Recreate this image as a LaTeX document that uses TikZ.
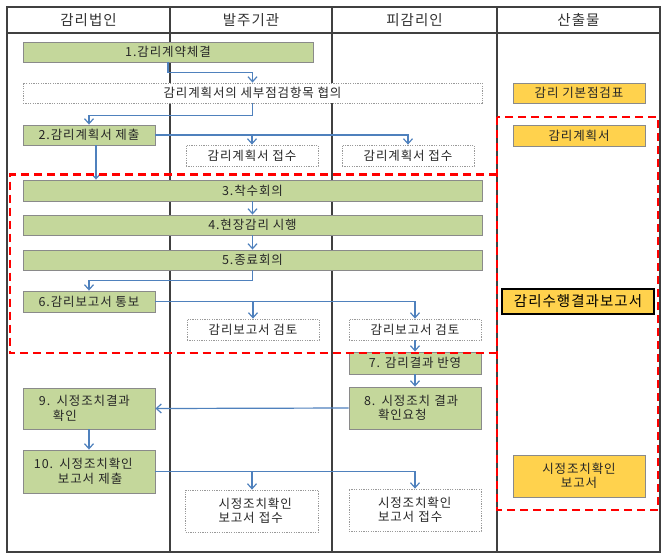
\documentclass[tikz,border=0pt]{standalone}
\usepackage{fontspec}
\setmainfont[LetterSpace=7]{Noto Sans CJK KR}
\usetikzlibrary{arrows.meta}
\definecolor{gfill}{HTML}{C4D79B}
\definecolor{gline}{HTML}{8A8A8A}
\definecolor{yfill}{HTML}{FFD24D}
\definecolor{arrc}{HTML}{4F81BD}
\definecolor{gridc}{HTML}{404040}
\definecolor{txt}{HTML}{262626}
\begin{document}
\begin{tikzpicture}[x=1pt,y=-1pt,
  every node/.style={inner sep=0pt, text=txt, font=\fontsize{12.5}{14.5}\selectfont},
  gbox/.style={draw=gline, fill=gfill, line width=0.9pt},
  dbox/.style={draw=gray!80, dash pattern=on 1.2pt off 1.2pt, line width=0.8pt, fill=white},
  ybox/.style={draw=gline, fill=yfill, line width=0.9pt},
  arr/.style={draw=arrc, line width=1.2pt, -{Straight Barb[length=5pt,width=9pt]}},
  hdr/.style={font=\fontsize{14.5}{16}\selectfont, text=black!80},
  gridl/.style={draw=gridc, line width=1.4pt},
  reddash/.style={draw=red, line width=2.6pt, dash pattern=on 8pt off 5pt},
]
\useasboundingbox[fill=white] (0,0) rectangle (670,558);
% grid
\draw[gridl] (7,7) rectangle (660,552);
\draw[gridl] (7,33) -- (660,33);
\draw[gridl] (170,7) -- (170,552);
\draw[gridl] (332,7) -- (332,552);
\draw[gridl] (497,7) -- (497,552);
% headers
\node[hdr] (h1) at (88.5,20) {감리법인};
\node[hdr] (h2) at (251,20) {발주기관};
\node[hdr] (h3) at (414.5,20) {피감리인};
\node[hdr] (h4) at (578.5,20) {산출물};
% main nodes
\node[gbox, minimum width=290pt, minimum height=20pt] (n1) at (168,52) {1.감리계약체결};
\node[dbox, minimum width=459pt, minimum height=20pt] (b1) at (252.5,93) {감리계획서의 세부점검항목 협의};
\node[gbox, minimum width=132pt, minimum height=20pt] (n2) at (89,135) {2.감리계획서 제출};
\node[dbox, minimum width=132pt, minimum height=21pt] (r1) at (252,155.5) {감리계획서 접수};
\node[dbox, minimum width=132pt, minimum height=21pt] (r2) at (408,155.5) {감리계획서 접수};
\node[gbox, minimum width=459pt, minimum height=21pt] (n3) at (252.5,190.5) {3.착수회의};
\node[gbox, minimum width=459pt, minimum height=20pt] (n4) at (252.5,225) {4.현장감리 시행};
\node[gbox, minimum width=459pt, minimum height=20pt] (n5) at (252.5,260) {5.종료회의};
\node[gbox, minimum width=132pt, minimum height=21pt] (n6) at (89,301.5) {6.감리보고서 통보};
\node[dbox, minimum width=132pt, minimum height=21pt] (r3) at (253,329.5) {감리보고서 검토};
\node[dbox, minimum width=132pt, minimum height=21pt] (r4) at (415,329.5) {감리보고서 검토};
\node[gbox, minimum width=132pt, minimum height=22pt] (n7) at (415,363) {7. 감리결과 반영};
\node[gbox, minimum width=132pt, minimum height=42pt, text width=132pt, align=left] (n8) at (415,408)
  {\hspace*{15pt}8. 시정조치 결과\\\hspace*{29pt}확인요청};
\node[gbox, minimum width=132pt, minimum height=41pt, text width=132pt, align=left] (n9) at (89,408.5)
  {\hspace*{16pt}9. 시정조치결과\\\hspace*{30pt}확인};
\node[gbox, minimum width=132pt, minimum height=43pt, text width=132pt, align=left] (n10) at (89,471.5)
  {\hspace*{11pt}10. 시정조치확인\\\hspace*{35pt}보고서 제출};
\node[dbox, minimum width=133pt, minimum height=42pt, text width=133pt, align=left] (r5) at (252,511)
  {\hspace*{33pt}시정조치확인\\\hspace*{33pt}보고서 접수};
\node[dbox, minimum width=132pt, minimum height=42pt, text width=132pt, align=left] (r6) at (415,510)
  {\hspace*{29pt}시정조치확인\\\hspace*{29pt}보고서 접수};
% outputs
\node[ybox, minimum width=132pt, minimum height=20pt] (y1) at (579,93) {감리 기본점검표};
\node[ybox, minimum width=132pt, minimum height=21pt] (y2) at (579,135.5) {감리계획서};
\node[ybox, draw=black, line width=1.3pt, minimum width=152pt, minimum height=25pt,
  font=\fontsize{14.5}{16}\selectfont, text=black] (y3) at (578,301.5) {감리수행결과보고서};
\node[ybox, minimum width=132pt, minimum height=42pt, align=center] (y4) at (579,476) {시정조치확인\\보고서};
% connectors
\draw[arr] (n1.south) -- ++(0,10) -| (b1.north);
\draw[arr] (b1.south) -- ++(0,12) -| (n2.north);
\draw[arr] (n2.east) -| (r2.north);
\draw[arr] (n2.east -| r1.north) -- (r1.north);
\draw[arr] ([xshift=7pt]n2.south) -- ([xshift=7pt]n2.south |- n3.north);
\draw[arr] (n3.south) -- (n4.north);
\draw[arr] (n4.south) -- (n5.north);
\draw[arr] (n5.south) -- ++(0,10) -| (n6.north);
\draw[arr] (n6.east) -| (r4.north);
\draw[arr] (n6.east -| r3.north) -- (r3.north);
\draw[arr] (r4.south) -- (n7.north);
\draw[arr] (n7.south) -- (n8.north);
\draw[arr] (n8.west) -- (n9.east);
\draw[arr] (n9.south) -- (n10.north);
\draw[arr] (n10.east) -| (r6.north);
\draw[arr] (n10.east -| r5.north) -- (r5.north);
% red dashed regions
\draw[reddash] (497,174.5) -- (10,174.5) -- (10,353) -- (497,353);
\draw[reddash] (497,117) rectangle (658,510);
\end{tikzpicture}
\end{document}
